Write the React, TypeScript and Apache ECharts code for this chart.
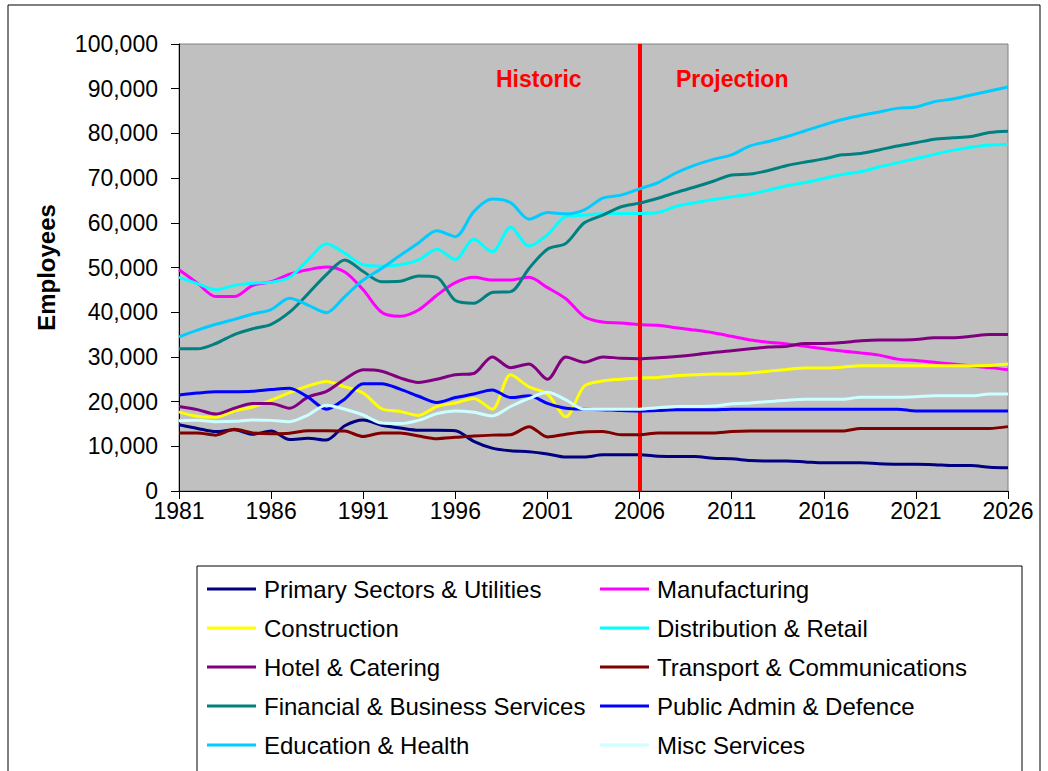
import React, { useEffect, useRef } from "react";
import * as echarts from "echarts";

const years = [
  "1981", "1982", "1983", "1984", "1985", "1986", "1987", "1988", "1989", "1990",
  "1991", "1992", "1993", "1994", "1995", "1996", "1997", "1998", "1999", "2000",
  "2001", "2002", "2003", "2004", "2005", "2006", "2007", "2008", "2009", "2010",
  "2011", "2012", "2013", "2014", "2015", "2016", "2017", "2018", "2019", "2020",
  "2021", "2022", "2023", "2024", "2025", "2026",
];

const primary = [
  14800, 14000, 13300, 13700, 12700, 13400, 11500, 11800, 11400, 14600,
  15900, 14700, 14100, 13600, 13600, 13500, 11100, 9600, 9000, 8800,
  8300, 7600, 7600, 8100, 8100, 8100, 7800, 7700, 7700, 7300,
  7200, 6800, 6700, 6700, 6500, 6300, 6300, 6300, 6100, 6000,
  6000, 5900, 5700, 5700, 5300, 5200,
];
const manufacturing = [
  49500, 46500, 43500, 43500, 46000, 46800, 48500, 49500, 50100, 49000,
  45000, 40000, 39100, 40500, 43800, 46600, 47800, 47200, 47200, 47800,
  45500, 43000, 39000, 37800, 37600, 37200, 37100, 36500, 36000, 35400,
  34600, 33800, 33300, 32900, 32400, 31800, 31300, 30900, 30400, 29500,
  29200, 28800, 28400, 28000, 27600, 27100,
];
const construction = [
  17700, 16700, 16500, 17900, 18800, 20300, 22000, 23500, 24500, 23300,
  21900, 18400, 17800, 16900, 18900, 19700, 20700, 18300, 26000, 23300,
  21700, 16600, 23500, 24600, 25000, 25300, 25400, 25800, 26000, 26200,
  26200, 26400, 26800, 27200, 27500, 27500, 27700, 28000, 28000, 28000,
  28000, 28000, 28000, 28000, 28100, 28400,
];
const distribution = [
  47800, 46400, 45000, 46000, 46500, 46700, 47800, 51700, 55300, 53200,
  50600, 50300, 50600, 51700, 54100, 51800, 56300, 53500, 59000, 54800,
  57300, 61400, 61700, 62000, 62100, 62100, 62300, 63700, 64500, 65200,
  65800, 66400, 67300, 68300, 69000, 69900, 70800, 71400, 72500, 73400,
  74400, 75300, 76200, 76900, 77400, 77500,
];
const hotel = [
  18900, 18200, 17200, 18500, 19600, 19600, 18500, 21000, 22300, 25000,
  27100, 26800, 25300, 24300, 25000, 26000, 26300, 30000, 27600, 28400,
  25000, 30000, 28800, 30000, 29700, 29600, 29800, 30100, 30500, 31000,
  31400, 31800, 32200, 32400, 33000, 33000, 33200, 33600, 33800, 33800,
  33900, 34300, 34300, 34600, 35000, 35000,
];
const transport = [
  13000, 13000, 12500, 13800, 13000, 12800, 12900, 13500, 13500, 13400,
  12200, 13000, 13000, 12300, 11700, 12000, 12300, 12500, 12600, 14400,
  12100, 12700, 13200, 13300, 12600, 12600, 13000, 13000, 13000, 13000,
  13300, 13400, 13400, 13400, 13400, 13400, 13400, 14000, 14000, 14000,
  14000, 14000, 14000, 14000, 14000, 14400,
];
const financial = [
  31800, 31800, 33000, 35000, 36300, 37300, 40000, 44100, 48400, 51700,
  49100, 46800, 46900, 48100, 47800, 42600, 42000, 44400, 44600, 49800,
  54100, 55400, 60000, 61700, 63600, 64400, 65500, 66800, 68000, 69300,
  70700, 70900, 71700, 72800, 73600, 74300, 75200, 75500, 76300, 77200,
  77900, 78700, 79000, 79300, 80200, 80500,
];
const publicAdmin = [
  21500, 21900, 22200, 22200, 22300, 22700, 23000, 21000, 18300, 20600,
  24000, 24000, 22800, 21200, 19800, 20900, 21700, 22600, 20900, 21300,
  19600, 18500, 18300, 18200, 18000, 17900, 18000, 18200, 18200, 18200,
  18300, 18300, 18300, 18300, 18300, 18300, 18300, 18300, 18300, 18300,
  17900, 17900, 17900, 17900, 17900, 17900,
];
const education = [
  34500, 36000, 37300, 38400, 39600, 40600, 43100, 41600, 39900, 43500,
  47200, 49800, 52700, 55500, 58200, 56900, 62500, 65300, 64500, 60800,
  62300, 62000, 62900, 65500, 66200, 67600, 69000, 71200, 72900, 74200,
  75200, 77200, 78200, 79300, 80600, 81900, 83100, 84000, 84800, 85600,
  85900, 87100, 87700, 88600, 89500, 90400,
];
const misc = [
  15700, 15800, 15500, 15600, 15900, 15800, 15500, 17000, 19200, 18300,
  17000, 15200, 15100, 15800, 17300, 17900, 17600, 16800, 18900, 20700,
  22100, 20400, 18300, 18300, 18300, 18300, 18600, 18900, 18900, 19000,
  19500, 19700, 20000, 20300, 20500, 20500, 20500, 21000, 21000, 21000,
  21100, 21300, 21300, 21300, 21700, 21700,
];

const seriesNames = [
  "Primary Sectors & Utilities",
  "Manufacturing",
  "Construction",
  "Distribution & Retail",
  "Hotel & Catering",
  "Transport & Communications",
  "Financial & Business Services",
  "Public Admin & Defence",
  "Education & Health",
  "Misc Services",
];
const seriesData = [
  primary, manufacturing, construction, distribution, hotel,
  transport, financial, publicAdmin, education, misc,
];
const seriesColors = [
  "#000080", "#FF00FF", "#FFFF00", "#00FFFF", "#800080",
  "#800000", "#008080", "#0000FF", "#00CCFF", "#CCFFFF",
];
const yTicks = { min: 0, max: 100000, interval: 10000 };
const dividerYear = "2006";

const FONT = '"Liberation Sans", Arial, sans-serif';

export default function App() {
  const ref = useRef<HTMLDivElement>(null);

  useEffect(() => {
    document.body.style.margin = "0";
    if (!ref.current) return;
    const chart = echarts.init(ref.current, null, { renderer: "svg" });

    const series: any[] = seriesNames.map((name, i) => ({
      name,
      type: "line",
      data: seriesData[i],
      symbol: "none",
      smooth: 0.3,
      lineStyle: { color: seriesColors[i], width: 3 },
      itemStyle: { color: seriesColors[i] },
      z: 2 + i,
    }));
    series[series.length - 1].markLine = {
      silent: true,
      symbol: ["none", "none"],
      label: { show: false },
      lineStyle: { color: "#FF0000", width: 4, type: "solid" },
      data: [{ xAxis: dividerYear }],
    };

    const leftNames = seriesNames.filter((_, i) => i % 2 === 0);
    const rightNames = seriesNames.filter((_, i) => i % 2 === 1);
    const legendBase = {
      orient: "vertical",
      top: 577,
      icon: "rect",
      itemWidth: 49,
      itemHeight: 3,
      itemGap: 15,
      padding: 0,
      textStyle: {
        fontSize: 24,
        lineHeight: 24,
        height: 24,
        color: "#000",
        fontFamily: FONT,
        padding: [0, 0, 0, 3],
      },
    };

    chart.setOption({
      animation: false,
      backgroundColor: "#FFFFFF",
      grid: {
        left: 179,
        right: 40,
        top: 44,
        bottom: 280,
        show: true,
        backgroundColor: "#C0C0C0",
        borderColor: "#808080",
        borderWidth: 1,
      },
      legend: [
        { ...legendBase, left: 207, data: leftNames },
        { ...legendBase, left: 600, data: rightNames },
      ],
      xAxis: {
        type: "category",
        data: years,
        boundaryGap: false,
        axisLine: { show: true, lineStyle: { color: "#000", width: 1 } },
        axisTick: { show: true, interval: 4, length: 8, lineStyle: { color: "#000" } },
        axisLabel: {
          interval: 4,
          fontSize: 23,
          color: "#000",
          margin: 8,
          fontFamily: FONT,
        },
        splitLine: { show: false },
      },
      yAxis: {
        type: "value",
        min: yTicks.min,
        max: yTicks.max,
        interval: yTicks.interval,
        name: "Employees",
        nameLocation: "middle",
        nameGap: 121,
        nameTextStyle: { fontSize: 24, fontWeight: "bold", color: "#000", fontFamily: FONT },
        axisLine: { show: true, lineStyle: { color: "#000", width: 1 } },
        axisTick: { show: true, length: 8, lineStyle: { color: "#000" } },
        axisLabel: {
          fontSize: 23,
          color: "#000",
          margin: 21,
          fontFamily: FONT,
          formatter: (v: number) => String(v).replace(/\B(?=(\d{3})+(?!\d))/g, ","),
        },
        splitLine: { show: false },
      },
      graphic: [
        {
          type: "rect",
          shape: { x: 8, y: 5, width: 1032, height: 800 },
          style: { fill: "none", stroke: "#000", lineWidth: 1 },
          silent: true,
          z: 0,
        },
        {
          type: "rect",
          shape: { x: 197, y: 566, width: 825, height: 230 },
          style: { fill: "none", stroke: "#000", lineWidth: 1 },
          silent: true,
        },
        {
          type: "text",
          left: 496,
          top: 67,
          style: { text: "Historic", fill: "#FF0000", font: `bold 23px ${FONT}` },
          z: 50,
        },
        {
          type: "text",
          left: 676,
          top: 67,
          style: { text: "Projection", fill: "#FF0000", font: `bold 23px ${FONT}` },
          z: 50,
        },
      ],
      series,
    });

    return () => chart.dispose();
  }, []);

  return <div ref={ref} style={{ width: 1048, height: 771 }} />;
}
